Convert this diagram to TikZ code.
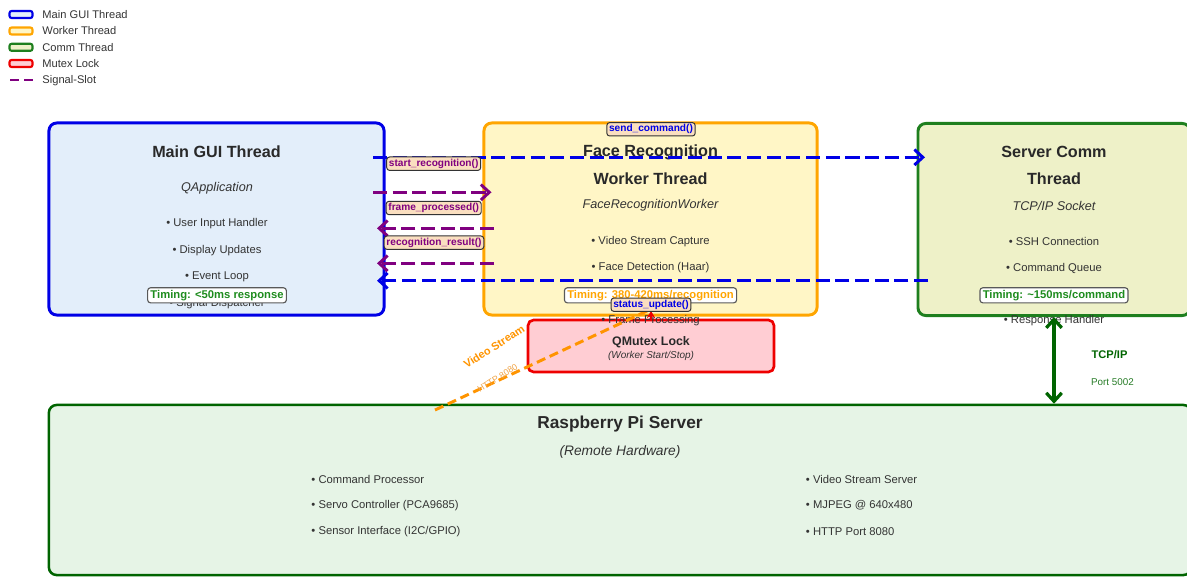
\documentclass[tikz,border=0pt]{standalone}
\usepackage{fontspec}
\setmainfont{Liberation Sans}
\usetikzlibrary{arrows.meta}

\definecolor{guiBlue}{RGB}{0,0,230}
\definecolor{guiFill}{HTML}{E3EEFA}
\definecolor{workOrange}{HTML}{FFA500}
\definecolor{workFill}{HTML}{FFF6C6}
\definecolor{commGreen}{HTML}{1E7F1E}
\definecolor{commFill}{HTML}{EEF1C8}
\definecolor{piGreen}{HTML}{006400}
\definecolor{piFill}{HTML}{E6F4E6}
\definecolor{lockRed}{HTML}{EE0000}
\definecolor{lockFill}{HTML}{FFCDD3}
\definecolor{sigPurple}{HTML}{800080}
\definecolor{tagFill}{HTML}{FADFC0}
\definecolor{timeGreen}{HTML}{1E8C1E}
\definecolor{txtGray}{HTML}{333333}
\definecolor{httpOrange}{HTML}{F0A448}

\newcommand{\fsz}[1]{\fontsize{#1pt}{#1pt}\selectfont}

\tikzset{
    threadbox/.style={draw, rounded corners=5.5pt, line width=2.1pt, inner sep=0pt},
    title/.style={text=txtGray!80!black, font=\fsz{11.5}\bfseries},
    subtitle/.style={text=txtGray, font=\fsz{9}\itshape},
    bullet/.style={text=txtGray, font=\fsz{8}},
    timing/.style={draw=black!65, fill=white, rounded corners=2pt, line width=0.8pt,
        inner xsep=2pt, inner ysep=1.6pt, font=\fsz{8}\bfseries},
    sigtag/.style={draw=black!80, fill=tagFill, rounded corners=2pt, line width=0.7pt,
        inner xsep=1.6pt, inner ysep=1.4pt, font=\fsz{7.2}\bfseries},
    sigline/.style={line width=2.1pt, dash pattern=on 10pt off 4pt,
        -{Straight Barb[length=6pt,width=11pt]}},
    keybox/.style={draw, line width=1.5pt, rounded corners=1.5pt, inner sep=0pt,
        minimum width=0.575cm, minimum height=0.175cm},
    keytext/.style={anchor=west, text=txtGray, font=\fsz{7.9}},
}

\begin{document}
\begin{tikzpicture}[x=0.025cm, y=-0.025cm]
    % Globals
    \useasboundingbox (0,0) rectangle (1187,577);
    \pgfmathsetmacro{\sigW}{377}
    \pgfmathsetmacro{\sigE}{494}

    % Legend
    \node[keybox, draw=guiBlue, fill=guiFill] (keyGui) at (21,14.5) {};
    \node[keybox, draw=workOrange, fill=workFill] (keyWork) at (21,31) {};
    \node[keybox, draw=commGreen, fill=commFill] (keyComm) at (21,47.3) {};
    \node[keybox, draw=lockRed, fill=lockFill] (keyLock) at (21,63.5) {};
    \coordinate (KEY_SIG_W) at (10,80);
    \coordinate (KEY_SIG_E) at (33,80);
    \draw[sigPurple, line width=1.8pt, dash pattern=on 6.4pt off 3.6pt] (KEY_SIG_W) -- (KEY_SIG_E);
    \node[keytext] (keyGuiText) at (37.5,14.7) {Main GUI Thread};
    \node[keytext] (keyWorkText) at (37.5,31) {Worker Thread};
    \node[keytext] (keyCommText) at (37.5,47.3) {Comm Thread};
    \node[keytext] (keyLockText) at (37.5,63.5) {Mutex Lock};
    \node[keytext] (keySigText) at (37.5,80.3) {Signal-Slot};

    % Boxes
    \node[threadbox, draw=lockRed, fill=lockFill, line width=1.9pt, rounded corners=4pt,
        minimum width=6.15cm, minimum height=1.3cm] (mutex) at (651,346) {};
    \node[threadbox, draw=guiBlue, fill=guiFill,
        minimum width=8.375cm, minimum height=4.8cm] (gui) at (216.5,219) {};
    \node[threadbox, draw=workOrange, fill=workFill,
        minimum width=8.325cm, minimum height=4.8cm] (worker) at (650.5,219) {};
    \node[threadbox, draw=commGreen, fill=commFill,
        minimum width=6.8cm, minimum height=4.8cm] (comm) at (1054,219.5) {};
    \node[threadbox, draw=piGreen, fill=piFill, line width=1.8pt,
        minimum width=28.55cm, minimum height=4.25cm] (pi) at (620,490) {};

    % Main GUI thread
    \node[title] (guiTitle) at (216.5,152) {Main GUI Thread};
    \node[subtitle] (guiSub) at (217,188) {QApplication};
    \node[bullet] (guiB1) at (217,224) {• User Input Handler};
    \node[bullet] (guiB2) at (217,250.5) {• Display Updates};
    \node[bullet] (guiB3) at (217,277) {• Event Loop};
    \node[bullet] (guiB4) at (217,303.5) {• Signal Dispatcher};
    \node[timing, text=timeGreen] (guiTime) at (217,295.3) {Timing: <50ms response};

    % Worker thread
    \node[title] (workTitleA) at (650.5,152) {Face Recognition};
    \node[title] (workTitleB) at (650.5,178.5) {Worker Thread};
    \node[subtitle] (workSub) at (650.5,205.7) {FaceRecognitionWorker};
    \node[bullet] (workB1) at (650.5,241.7) {• Video Stream Capture};
    \node[bullet] (workB2) at (650.5,268) {• Face Detection (Haar)};
    \node[bullet] (workB3) at (650.5,321) {• Frame Processing};
    \node[timing, text=workOrange] (workTime) at (650.5,295.3) {Timing: 380-420ms/recognition};

    % Server comm thread
    \node[title] (commTitleA) at (1054,152) {Server Comm};
    \node[title] (commTitleB) at (1054,178.5) {Thread};
    \node[subtitle] (commSub) at (1054,205.7) {TCP/IP Socket};
    \node[bullet] (commB1) at (1054,241.7) {• SSH Connection};
    \node[bullet] (commB2) at (1054,268) {• Command Queue};
    \node[bullet] (commB3) at (1054,321) {• Response Handler};
    \node[timing, text=timeGreen] (commTime) at (1054,295.3) {Timing: \textasciitilde150ms/command};

    % Mutex
    \node[text=txtGray!80!black, font=\fsz{8.8}\bfseries] (mutexTitle) at (651,342) {QMutex Lock};
    \node[text=txtGray, font=\fsz{7.1}\itshape] (mutexSub) at (651,356) {(Worker Start/Stop)};

    % Raspberry Pi server
    \node[title, font=\fsz{12.3}\bfseries] (piTitle) at (620,424.5) {Raspberry Pi Server};
    \node[subtitle, font=\fsz{9.8}\itshape] (piSub) at (620,452) {(Remote Hardware)};
    \node[bullet, anchor=west] (piL1) at (306.5,479) {• Command Processor};
    \node[bullet, anchor=west] (piL2) at (306.5,505.3) {• Servo Controller (PCA9685)};
    \node[bullet, anchor=west] (piL3) at (306.5,531.3) {• Sensor Interface (I2C/GPIO)};
    \node[bullet, anchor=west] (piR1) at (801,479) {• Video Stream Server};
    \node[bullet, anchor=west] (piR2) at (801,505.3) {• MJPEG @ 640x480};
    \node[bullet, anchor=west] (piR3) at (801,531.3) {• HTTP Port 8080};

    % Signal-slot connections
    \coordinate (SEND_W) at (373,157.3);
    \coordinate (SEND_E) at (925,157.3);
    \coordinate (START_W) at (373,192.3);
    \coordinate (START_E) at (491.5,192.3);
    \coordinate (FRAME_E) at (\sigE,228.3);
    \coordinate (FRAME_W) at (\sigW,228.3);
    \coordinate (RESULT_E) at (\sigE,263.3);
    \coordinate (RESULT_W) at (\sigW,263.3);
    \coordinate (STATUS_E) at (928,280.7);
    \coordinate (STATUS_W) at (\sigW,280.7);

    \draw[sigline, guiBlue] (SEND_W) -- (SEND_E);
    \draw[sigline, sigPurple] (START_W) -- (START_E);
    \draw[sigline, sigPurple] (FRAME_E) -- (FRAME_W);
    \draw[sigline, sigPurple] (RESULT_E) -- (RESULT_W);
    \draw[sigline, guiBlue] (STATUS_E) -- (STATUS_W);

    % Mutex and video stream
    \coordinate (LOCK_TIP) at (651,311);
    \draw[lockRed, line width=1.6pt, -{Stealth[length=5pt,width=6pt]}] (mutex.north) -- (LOCK_TIP);
    \coordinate (VIDEO_S) at (435,410);
    \coordinate (VIDEO_N) at (648,310.5);
    \draw[workOrange!90!red, line width=2.1pt, dash pattern=on 6.5pt off 3.5pt] (VIDEO_S) -- (VIDEO_N);
    \node[text=workOrange!90!red, font=\fsz{7.8}\bfseries, rotate=33] (videoTag) at (494,346.5) {Video Stream};
    \node[text=httpOrange, font=\fsz{6.3}, rotate=32] (httpTag) at (497.5,378) {HTTP 8080};

    % TCP/IP link
    \draw[piGreen, line width=2.3pt, {Straight Barb[length=6pt,width=11pt]}-{Straight Barb[length=6pt,width=11pt]}]
        (comm.south) -- (comm.south |- pi.north);
    \node[text=piGreen, font=\fsz{7.9}\bfseries] (tcpTag) at (1109.5,355) {TCP/IP};
    \node[text=piGreen!85!white, font=\fsz{7}] (portTag) at (1112.5,382) {Port 5002};

    % Signal labels
    \node[sigtag, text=guiBlue] (sendTag) at (651,129.3) {send\_command()};
    \node[sigtag, text=sigPurple] (startTag) at (433.7,163.7) {start\_recognition()};
    \node[sigtag, text=sigPurple] (frameTag) at (433.7,208) {frame\_processed()};
    \node[sigtag, text=sigPurple] (resultTag) at (434,242.7) {recognition\_result()};
    \node[sigtag, text=guiBlue] (statusTag) at (651,304.7) {status\_update()};
\end{tikzpicture}
\end{document}
